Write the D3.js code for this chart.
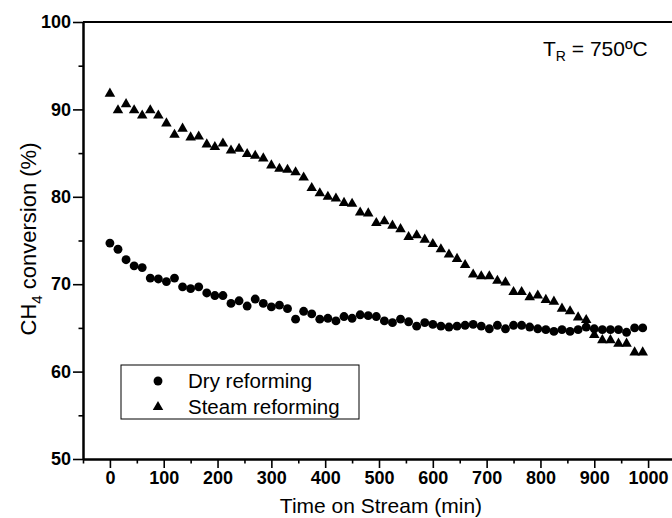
<!DOCTYPE html>
<html>
<head>
<meta charset="utf-8">
<script src="https://cdn.jsdelivr.net/npm/d3@7"></script>
<style>
  body { margin: 0; background: #fff; }
  text { font-family: "Liberation Sans", Arial, sans-serif; }
</style>
</head>
<body>
<div id="chart"></div>
<script>
// time on stream (min)
const timeOnStream = [0, 15, 30, 45, 60, 75, 90, 105, 120, 135, 150, 165, 180, 195, 210, 225, 240, 255, 270, 285,
  300, 315, 330, 345, 360, 375, 390, 405, 420, 435, 450, 465, 480, 495, 510, 525, 540, 555, 570, 585,
  600, 615, 630, 645, 660, 675, 690, 705, 720, 735, 750, 765, 780, 795, 810, 825, 840, 855, 870, 885,
  900, 915, 930, 945, 960, 975, 990]

// CH4 conversion (%)
const dryReforming = [74.7, 74.0, 72.8, 72.1, 71.9, 70.7, 70.6, 70.3, 70.7, 69.7, 69.5, 69.7, 69.0, 68.7, 68.7, 67.8, 68.1, 67.5, 68.3, 67.8,
  67.4, 67.6, 67.2, 66.0, 66.9, 66.6, 66.0, 66.1, 65.8, 66.3, 66.1, 66.5, 66.4, 66.3, 65.8, 65.6, 66.0, 65.7, 65.2, 65.6,
  65.4, 65.2, 65.1, 65.2, 65.3, 65.4, 65.2, 64.9, 65.3, 64.9, 65.3, 65.3, 65.1, 64.9, 64.8, 64.6, 64.8, 64.6, 64.8, 65.1,
  64.9, 64.8, 64.8, 64.8, 64.5, 65.0, 65.0]

const steamReforming = [91.8, 89.9, 90.6, 89.9, 89.3, 89.9, 89.3, 88.4, 87.1, 87.8, 86.8, 86.9, 86.0, 85.7, 86.1, 85.3, 85.5, 84.9, 84.7, 84.4,
  83.6, 83.2, 83.1, 82.8, 82.2, 81.0, 80.4, 80.0, 79.8, 79.3, 79.2, 78.2, 78.1, 77.0, 77.2, 76.7, 76.3, 75.4, 75.6, 75.1,
  74.6, 74.0, 73.4, 72.9, 72.2, 71.1, 70.9, 70.9, 70.4, 70.2, 69.1, 69.1, 68.5, 68.7, 68.2, 68.0, 67.2, 66.9, 66.2, 65.9,
  64.2, 63.6, 63.6, 63.2, 63.2, 62.2, 62.2]

const seriesNames = ['Dry reforming', 'Steam reforming']
const xTicks = [0, 100, 200, 300, 400, 500, 600, 700, 800, 900, 1000]
const xMinorTicks = [-50, 50, 150, 250, 350, 450, 550, 650, 750, 850, 950]
const yTicks = [50, 60, 70, 80, 90, 100]
const yMinorTicks = [55, 65, 75, 85, 95]

const width = 672
const height = 518
const margin = { top: 22, right: -3, bottom: 59, left: 83 }

let svg = d3.select('#chart').append('svg')
    .attr('width', width)
    .attr('height', height)

let x = d3.scaleLinear()
    .domain([-50, 1050])
    .range([margin.left, width - margin.right])

let y = d3.scaleLinear()
    .domain([50, 100])
    .range([height - margin.bottom, margin.top])

// axes
let xAxis = svg.append('g')
    .attr('transform', `translate(0, ${y(50)})`)
    .call(d3.axisBottom(x).tickValues(xTicks).tickFormat(d3.format('d')).tickSize(9).tickPadding(3).tickSizeOuter(0))
let xMinor = svg.append('g')
    .attr('transform', `translate(0, ${y(50)})`)
    .call(d3.axisBottom(x).tickValues(xMinorTicks).tickSize(4.5).tickFormat('').tickSizeOuter(0))

let yAxis = svg.append('g')
    .attr('transform', `translate(${x(-50)}, 0)`)
    .call(d3.axisLeft(y).tickValues(yTicks).tickSize(10).tickPadding(2).tickSizeOuter(0))
let yMinor = svg.append('g')
    .attr('transform', `translate(${x(-50)}, 0)`)
    .call(d3.axisLeft(y).tickValues(yMinorTicks).tickSize(4.5).tickFormat('').tickSizeOuter(0))

svg.selectAll('.domain').attr('stroke', '#000').attr('stroke-width', 2)
svg.selectAll('.tick line').attr('stroke', '#000').attr('stroke-width', 1.6)
svg.selectAll('.tick text')
    .attr('fill', '#000')
    .style('font-size', '18px')
    .style('font-weight', 'bold')

// top frame line
svg.append('line')
    .attr('x1', x(-50)).attr('x2', x(1050))
    .attr('y1', y(100)).attr('y2', y(100))
    .attr('stroke', '#000').attr('stroke-width', 2)

// axis titles
svg.append('text')
    .attr('x', 381)
    .attr('y', 513)
    .attr('text-anchor', 'middle')
    .style('font-size', '21px')
    .text('Time on Stream (min)')

let yTitle = svg.append('text')
    .attr('transform', `translate(36, 239) rotate(-90)`)
    .attr('text-anchor', 'middle')
    .style('font-size', '22px')
yTitle.append('tspan').text('CH')
yTitle.append('tspan').attr('dy', 6).style('font-size', '15px').text('4')
yTitle.append('tspan').attr('dy', -6).text(' conversion (%)')

// markers
const circleSym = d3.symbol().type(d3.symbolCircle).size(62)
const triSym = d3.symbol().type(d3.symbolTriangle).size(48)

svg.append('g').selectAll('path')
    .data(timeOnStream)
    .enter()
    .append('path')
    .attr('d', circleSym)
    .attr('transform', (d, i) => `translate(${x(d)}, ${y(dryReforming[i])})`)
    .attr('fill', '#000')

svg.append('g').selectAll('path')
    .data(timeOnStream)
    .enter()
    .append('path')
    .attr('d', triSym)
    .attr('transform', (d, i) => `translate(${x(d)}, ${y(steamReforming[i])})`)
    .attr('fill', '#000')

// legend
let legend = svg.append('g')
legend.append('rect')
    .attr('x', 121).attr('y', 365)
    .attr('width', 238).attr('height', 54)
    .attr('fill', '#fff').attr('stroke', '#000').attr('stroke-width', 1)

let legendItems = legend.selectAll('g.item')
    .data(seriesNames)
    .enter()
    .append('g')
    .attr('class', 'item')
    .attr('transform', (d, i) => `translate(158, ${381 + i * 26})`)

legendItems.append('path')
    .attr('d', (d, i) => i === 0 ? circleSym() : triSym())
    .attr('fill', '#000')

legendItems.append('text')
    .attr('x', 30)
    .attr('dy', '0.35em')
    .style('font-size', '20.5px')
    .text(d => d)

// annotation
let note = svg.append('text')
    .attr('x', 543)
    .attr('y', 56)
    .style('font-size', '21px')
note.append('tspan').text('T')
note.append('tspan').attr('dy', 5).style('font-size', '14px').text('R')
note.append('tspan').attr('dy', -5).text(' = 750ºC')
</script>
</body>
</html>
